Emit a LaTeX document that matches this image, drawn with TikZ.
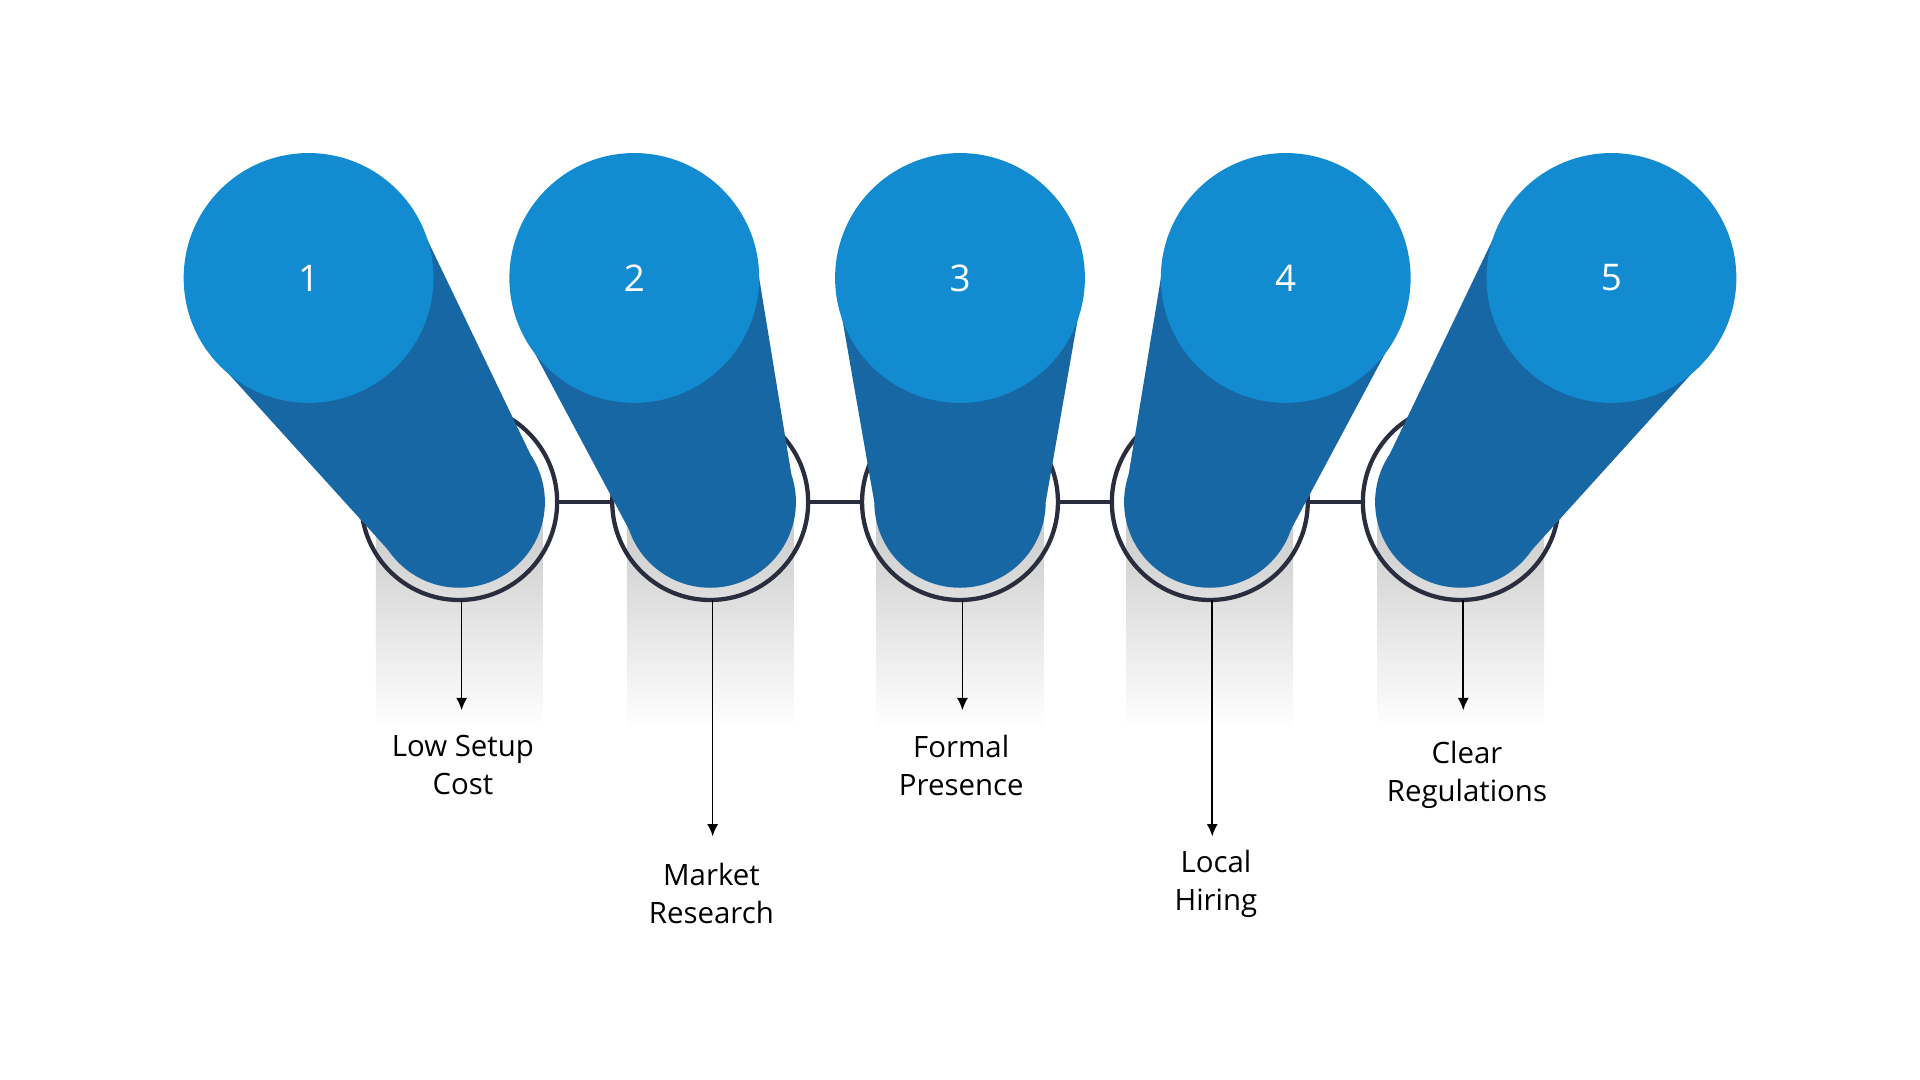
\documentclass[tikz,border=0pt]{standalone}
\usepackage{fontspec}
\setmainfont{Open Sans}
\usetikzlibrary{calc,arrows.meta}
\definecolor{lightb}{HTML}{128BD0}
\definecolor{darkb}{HTML}{1667A3}
\definecolor{ringc}{HTML}{2A2D3E}
\tikzset{
  ring/.style={draw=ringc,line width=3.5pt},
  conn/.style={draw=ringc,line width=3.5pt},
  arr/.style={draw=black,line width=1.3pt,-{Latex[length=10pt,width=9pt]}},
  lab/.style={font=\fontsize{24}{31}\selectfont,align=center,text=black},
  num/.style={font=\fontsize{30}{36}\selectfont,text=white}
}
\begin{document}
\begin{tikzpicture}[x=1pt,y=-1pt]
\useasboundingbox (0,0) rectangle (1568,882);
\foreach \i/\tx/\bx in {1/252/375,2/518/580,3/784/784,4/1050/988,5/1316/1193}{
  \coordinate (T\i) at (\tx,227);
  \coordinate (B\i) at (\bx,410);
}
\foreach \bx in {375,580,784,988,1193}{
  \shade[top color=black!22,bottom color=white] (\bx-68,410) rectangle (\bx+68,595);
}
\foreach \a/\b in {1/2,2/3,3/4,4/5}{
  \draw[conn] ([xshift=80pt]B\a) -- ([xshift=-80pt]B\b);
}
\foreach \i in {1,...,5}{
  \draw[ring] (B\i) circle (80pt);
}
\foreach \i in {1,...,5}{
  \fill[darkb] ($(T\i)!102pt!90:(B\i)$) -- ($(B\i)!70pt!-90:(T\i)$) -- ($(B\i)!70pt!90:(T\i)$) -- ($(T\i)!102pt!-90:(B\i)$) -- cycle;
  \fill[darkb] (B\i) circle (70pt);
  \fill[lightb] (T\i) circle (102pt);
  \node[num] (N\i) at (T\i) {\i};
}
\foreach \i/\bx/\ey/\ly in {1/375/580/625,2/580/683/730,3/784/580/625,4/988/683/722,5/1193/580/633}{
  \coordinate (E\i) at (\bx+2,\ey);
  \coordinate (S\i) at (\bx+2,490);
  \draw[arr] (S\i) -- (E\i);
}
\node[lab] (L1) at (378,625) {Low Setup\\Cost};
\node[lab] (L2) at (581,730) {Market\\Research};
\node[lab] (L3) at (785,625) {Formal\\Presence};
\node[lab] (L4) at (993,722) {Local\\Hiring};
\node[lab] (L5) at (1198,633) {Clear\\Regulations};
\end{tikzpicture}
\end{document}
